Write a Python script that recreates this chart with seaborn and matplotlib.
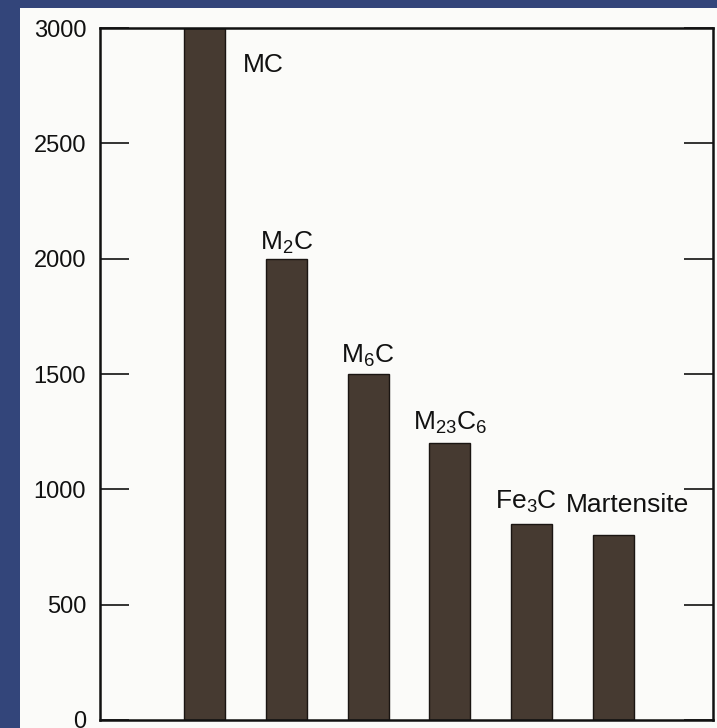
import matplotlib
matplotlib.use("Agg")
import matplotlib.pyplot as plt
import seaborn as sns
import pandas as pd
from matplotlib.patches import Rectangle

CARBIDES = ["MC", "M2C", "M6C", "M23C6", "Fe3C", "Martensite"]
HARDNESS = [3000, 2000, 1500, 1200, 850, 800]
LABELS = [r"MC", r"$\mathregular{M_2C}$", r"$\mathregular{M_6C}$",
          r"$\mathregular{M_{23}C_6}$", r"$\mathregular{Fe_3C}$", "Martensite"]
Y_TICKS = [0, 500, 1000, 1500, 2000, 2500, 3000]

BAR_COLOR = "#463a31"
PAPER = "#fbfbf9"
BLUE = "#33457a"

# label offsets (dx in category units, dy in data units)
LABEL_OFFSETS = [(0.72, -160), (0.0, 70), (0.0, 80), (0.0, 90), (-0.07, 95), (0.18, 130)]

sns.set_theme(style="white")
plt.rcParams["font.family"] = ["Liberation Sans", "DejaVu Sans"]

df = pd.DataFrame({"carbide": CARBIDES, "hardness": HARDNESS})

fig = plt.figure(figsize=(7.17, 7.28), dpi=100, facecolor=BLUE)
fig.patches.append(Rectangle((20 / 717, 0), 1, 1 - 8 / 728, transform=fig.transFigure,
                             facecolor=PAPER, edgecolor="none", zorder=-5))

ax = fig.add_axes([100 / 717, 8 / 728, 613 / 717, 692 / 728])
ax.set_facecolor(PAPER)
sns.barplot(data=df, x="carbide", y="hardness", color=BAR_COLOR, width=0.5,
            edgecolor="#1a1512", linewidth=1, saturation=1, ax=ax)

for i, (lab, val) in enumerate(zip(LABELS, HARDNESS)):
    dx, dy = LABEL_OFFSETS[i]
    ax.text(i + dx, val + dy, lab, ha="center", va="center", fontsize=19, color="#111111")

ax.set_xlim(-1.28, 6.22)
ax.set_ylim(0, 3000)
ax.set_yticks(Y_TICKS)
ax.set_xticks([])
ax.set_xlabel("")
ax.set_ylabel("")
ax.tick_params(axis="y", direction="in", length=21, width=1.2, color="#111111",
               labelsize=17, labelcolor="#111111", left=True, right=True, pad=10)
for s in ax.spines.values():
    s.set_visible(True)
    s.set_color("#111111")
    s.set_linewidth(1.8)

fig.savefig("out.png", dpi=100, facecolor=BLUE)
